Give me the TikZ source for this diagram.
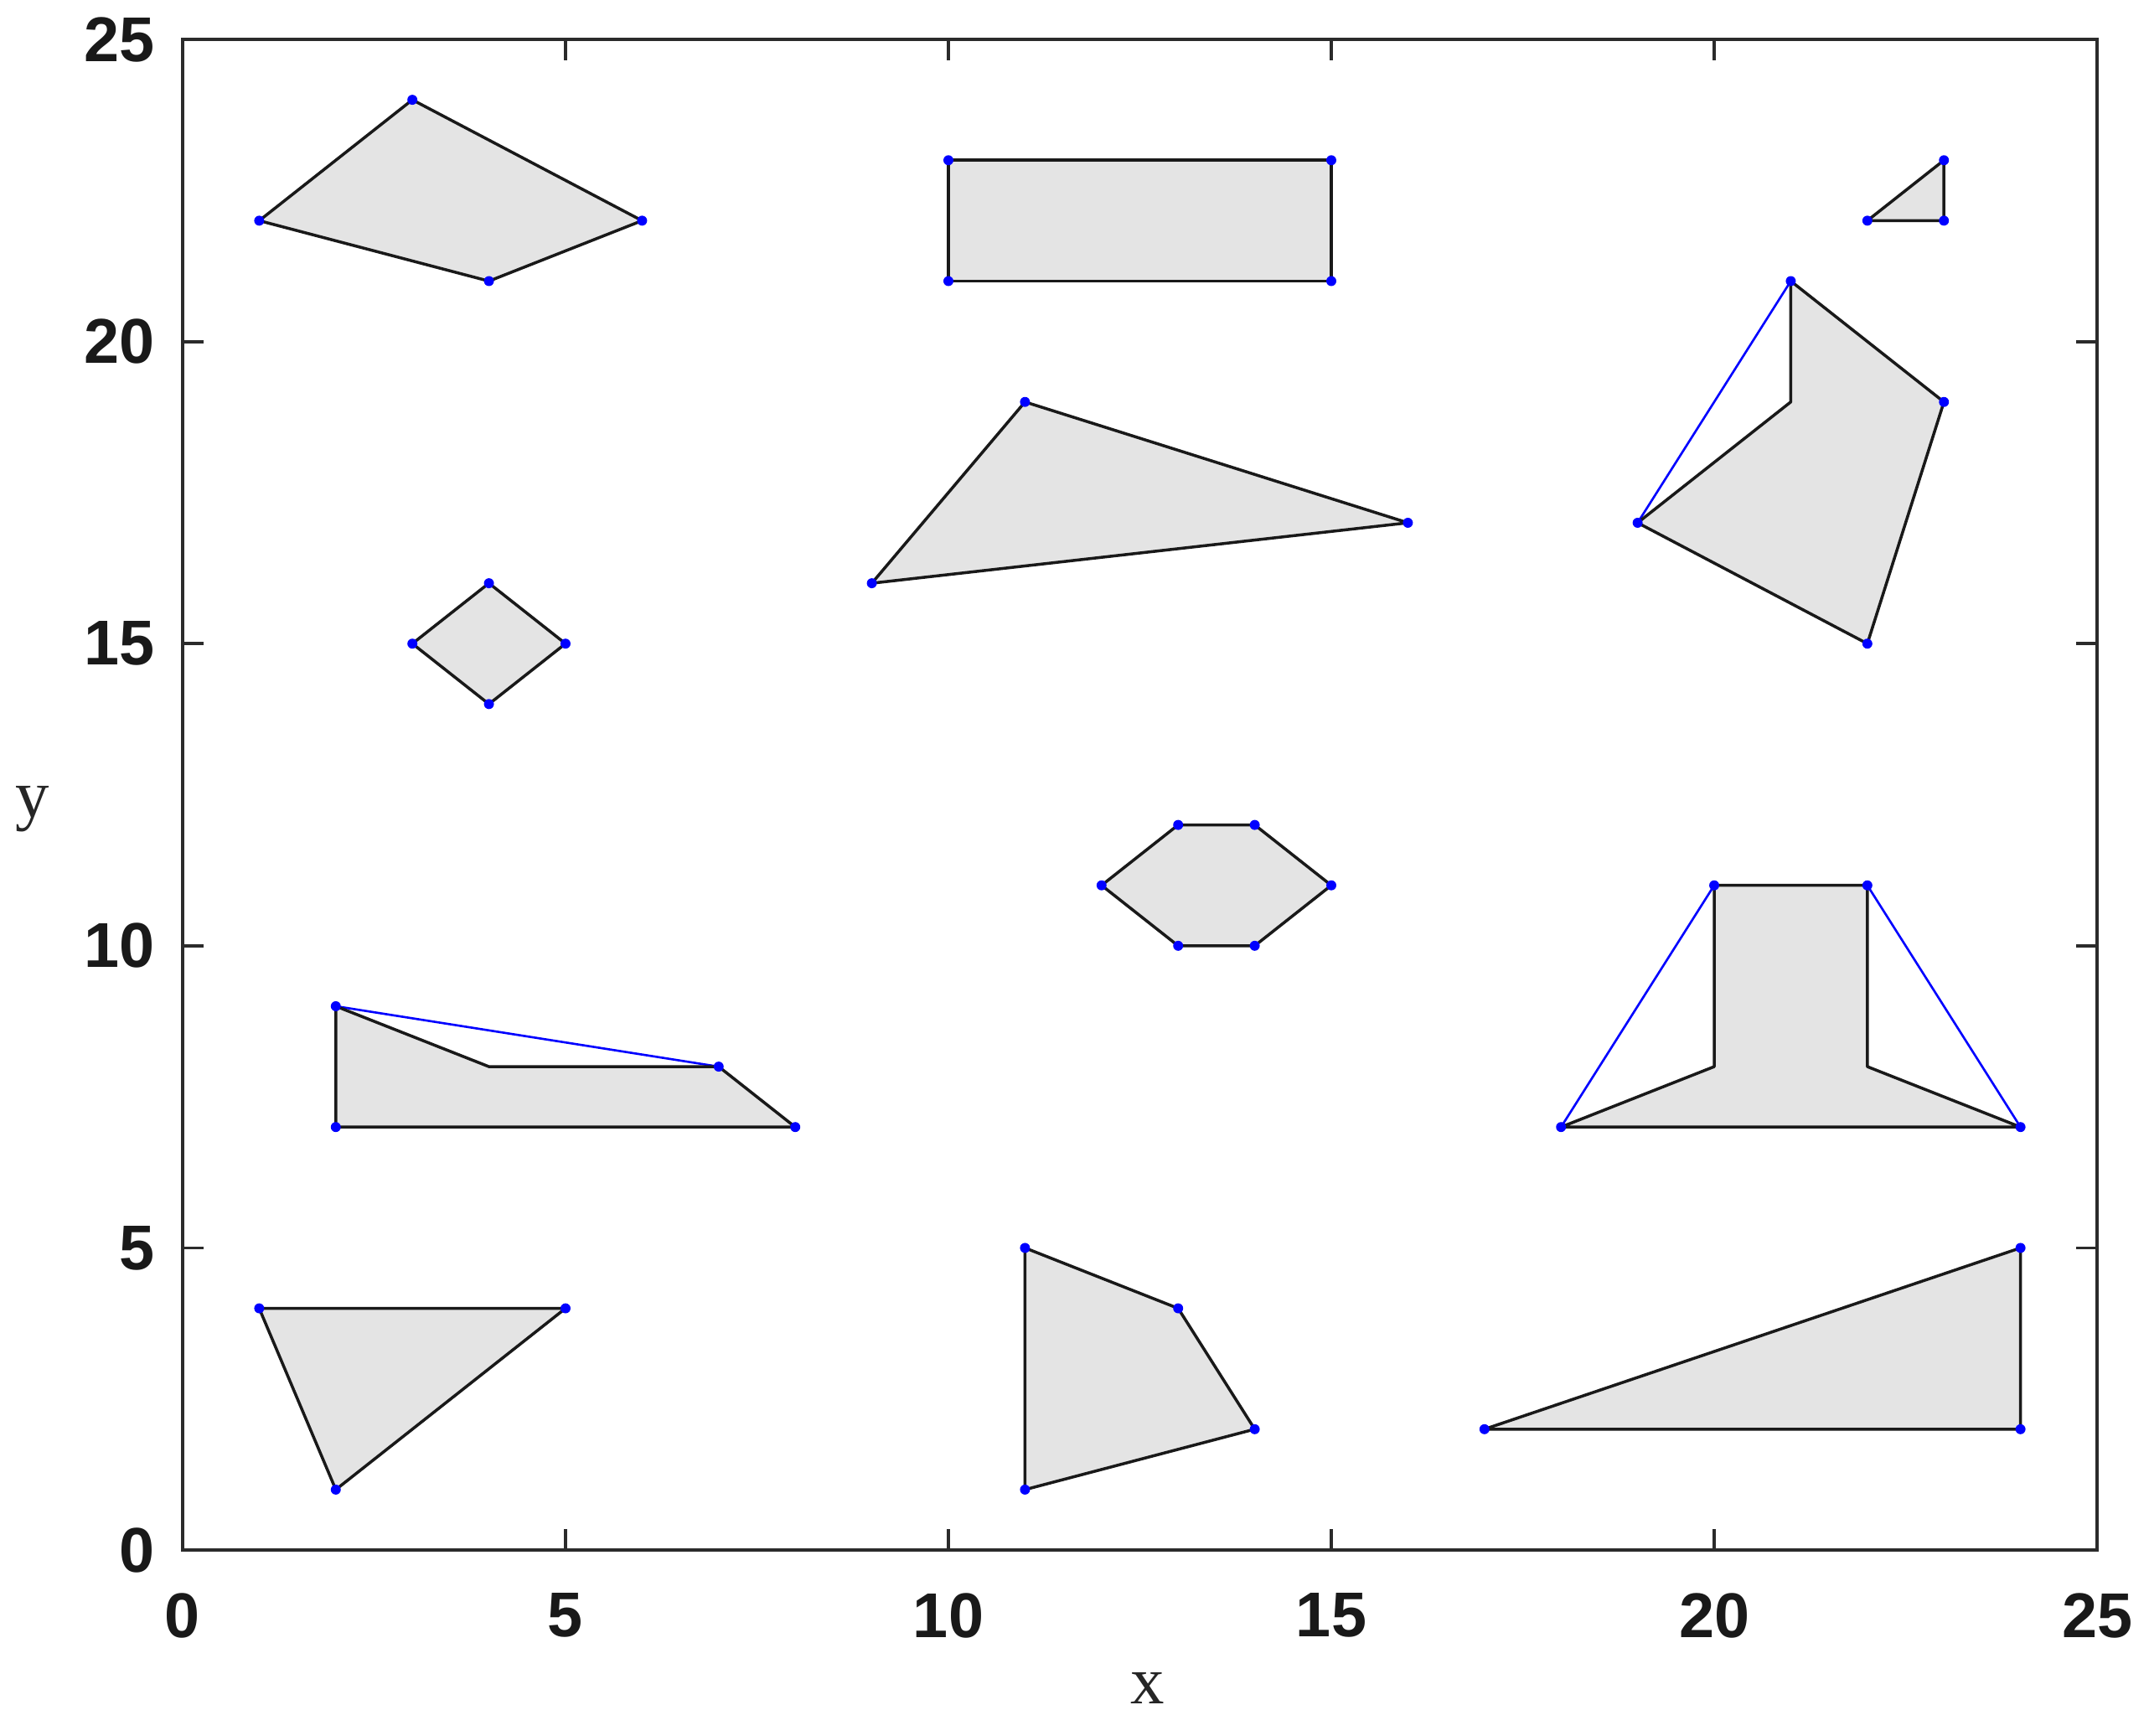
\documentclass[tikz,border=0pt]{standalone}
\usepackage{fontspec}
\setmainfont{Liberation Serif}
\newfontfamily\ticksfont{Liberation Sans}
\definecolor{polyfill}{HTML}{E4E4E4}
\definecolor{framegrey}{HTML}{2B2B2B}
\definecolor{hullblue}{HTML}{0000FF}
\tikzset{
  poly/.style={fill=polyfill, draw=black!90, line width=1pt, line join=round},
  hull/.style={draw=hullblue, line width=0.75pt},
  vdot/.style={fill=hullblue},
  frameline/.style={draw=framegrey, line width=1.05pt},
  tickline/.style={draw=framegrey, line width=1.1pt},
  ticklab/.style={inner sep=0pt, font=\ticksfont\bfseries\fontsize{21.5}{24}\selectfont, text=black!90},
  axlab/.style={inner sep=0pt, font=\fontsize{23}{26}\selectfont, text=black!85}
}
\newcommand{\vertexdots}[1]{\foreach \p in {#1} {\fill[vdot] \p circle[radius=1.7pt];}}
\begin{document}
\begin{tikzpicture}[x=0.914cm, y=0.7212cm]
\useasboundingbox[fill=white] (-2.385,-3.064) rectangle (25.678,25.652);

% polygons
\draw[poly] (1,22) -- (3,24) -- (6,22) -- (4,21) -- cycle;
\draw[poly] (10,21) -- (10,23) -- (15,23) -- (15,21) -- cycle;
\draw[poly] (22,22) -- (23,23) -- (23,22) -- cycle;
\draw[poly] (9,16) -- (11,19) -- (16,17) -- cycle;
\draw[hull] (19,17) -- (21,21);
\draw[poly] (21,21) -- (23,19) -- (22,15) -- (19,17) -- (21,19) -- cycle;
\draw[poly] (3,15) -- (4,16) -- (5,15) -- (4,14) -- cycle;
\draw[poly] (12,11) -- (13,12) -- (14,12) -- (15,11) -- (14,10) -- (13,10) -- cycle;
\draw[hull] (2,9) -- (7,8);
\draw[hull] (2,7) -- (8,7);
\draw[poly] (2,9) -- (4,8) -- (7,8) -- (8,7) -- (2,7) -- cycle;
\draw[hull] (18,7) -- (20,11);
\draw[hull] (22,11) -- (24,7);
\draw[hull] (18,7) -- (24,7);
\draw[poly] (18,7) -- (20,8) -- (20,11) -- (22,11) -- (22,8) -- (24,7) -- cycle;
\draw[poly] (1,4) -- (5,4) -- (2,1) -- cycle;
\draw[poly] (11,5) -- (13,4) -- (14,2) -- (11,1) -- cycle;
\draw[poly] (17,2) -- (24,5) -- (24,2) -- cycle;

% vertex dots
\vertexdots{(1,22),(3,24),(6,22),(4,21)}
\vertexdots{(10,21),(10,23),(15,23),(15,21)}
\vertexdots{(22,22),(23,23),(23,22)}
\vertexdots{(9,16),(11,19),(16,17)}
\vertexdots{(21,21),(23,19),(22,15),(19,17)}
\vertexdots{(3,15),(4,16),(5,15),(4,14)}
\vertexdots{(12,11),(13,12),(14,12),(15,11),(14,10),(13,10)}
\vertexdots{(2,9),(7,8),(8,7),(2,7)}
\vertexdots{(18,7),(20,11),(22,11),(24,7)}
\vertexdots{(1,4),(5,4),(2,1)}
\vertexdots{(11,5),(13,4),(14,2),(11,1)}
\vertexdots{(17,2),(24,5),(24,2)}

% ticks
\foreach \t in {5,10,15,20} {
  \draw[tickline] (\t,0) -- (\t,0.347);
  \draw[tickline] (\t,25) -- (\t,24.653);
  \draw[tickline] (0,\t) -- (0.2735,\t);
  \draw[tickline] (25,\t) -- (24.7265,\t);
}
% frame
\draw[frameline] (0,0) rectangle (25,25);

% tick labels
\foreach \t in {0,5,10,15,20,25} {
  \node[ticklab, anchor=north] (xl\t) at (\t,-0.7) {\t};
  \node[ticklab, anchor=east] (yl\t) at (-0.36,\t) {\t};
}
% axis labels
\node[axlab, anchor=base] (xlab) at (12.6,-2.54) {x};
\node[axlab, anchor=base] (ylab) at (-1.958,12.13) {y};
\end{tikzpicture}
\end{document}
